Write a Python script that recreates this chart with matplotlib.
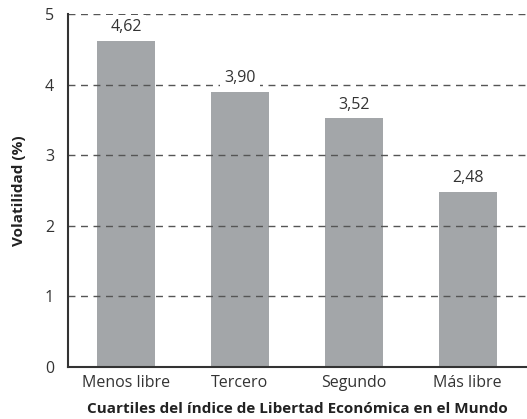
import numpy as np
import matplotlib.pyplot as plt

plt.rcParams['font.family'] = ['Open Sans', 'DejaVu Sans']

# datos
categorias = ['Menos libre', 'Tercero', 'Segundo', 'Más libre']
volatilidad = [4.62, 3.90, 3.52, 2.48]
etiquetas = ['4,62', '3,90', '3,52', '2,48']

fig = plt.figure(figsize=(5.27, 4.19), dpi=100)
ax = fig.add_axes([68 / 527, 52 / 419, 459 / 527, 353 / 419])

x = np.arange(len(categorias))
ax.bar(x, volatilidad, width=0.51, color='#a3a6a9', zorder=1)

# lineas horizontales punteadas
for yv in [1, 2, 3, 4, 5]:
    ax.axhline(yv, color='#555555', linestyle=(0, (5, 4)), linewidth=1.0, zorder=2)

for xi, v, t in zip(x, volatilidad, etiquetas):
    ax.text(xi, v + 0.08, t, ha='center', va='bottom', fontsize=11.5, color='#333333',
            zorder=3, bbox=dict(facecolor='white', edgecolor='none', pad=3))

ax.set_xlim(-0.51, 3.52)
ax.set_ylim(0, 5)
ax.set_yticks([0, 1, 2, 3, 4, 5])
ax.set_xticks(x)
ax.set_xticklabels(categorias)
ax.tick_params(axis='both', length=0, labelsize=11.5, colors='#333333')
ax.tick_params(axis='y', pad=10)
ax.tick_params(axis='x', pad=6)

for s in ['top', 'right']:
    ax.spines[s].set_visible(False)
ax.spines['left'].set_color('#333333')
ax.spines['bottom'].set_color('#333333')
ax.spines['left'].set_linewidth(1.5)
ax.spines['bottom'].set_linewidth(1.5)

ax.set_xlabel('Cuartiles del índice de Libertad Económica en el Mundo',
              fontsize=11, fontweight='bold', color='#222222', labelpad=8)
ax.set_ylabel('Volatilidad (%)', fontsize=11, fontweight='bold', color='#222222', labelpad=14)

fig.savefig('out.png', dpi=100)
